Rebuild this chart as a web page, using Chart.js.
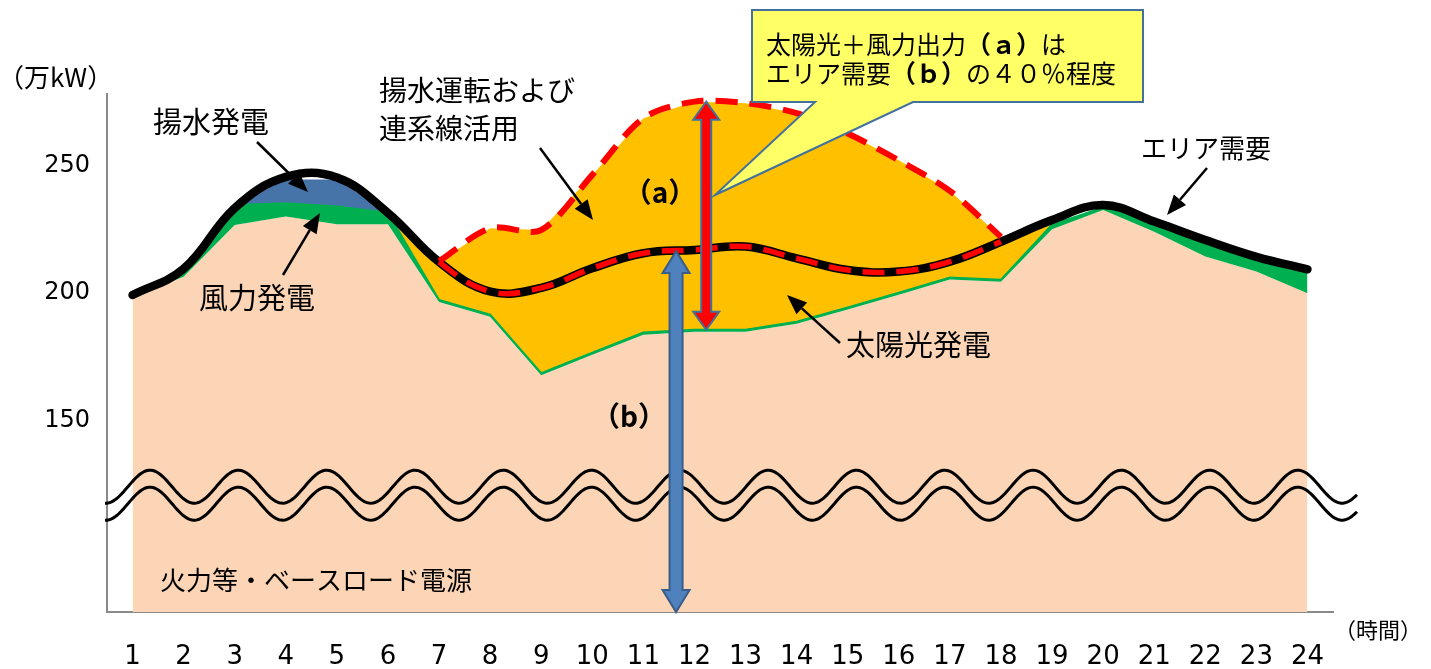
<!DOCTYPE html>
<html>
<head>
<meta charset="utf-8">
<script src="https://cdn.jsdelivr.net/npm/chart.js@4.4.0/dist/chart.umd.min.js"></script>
<style>
  html, body { margin: 0; padding: 0; background: #fff; }
  #wrap { width: 1431px; height: 669px; }
</style>
</head>
<body>
<div id="wrap"><canvas id="supplyChart"></canvas></div>
<script>
const hours = ['1','2','3','4','5','6','7','8','9','10','11','12','13','14','15','16','17','18','19','20','21','22','23','24'];
const yTicks = [150, 200, 250];

// top edge of each band (万kW)
const baseTop  = [198.5, 206.4, 226.7, 230.0, 227.0, 227.0, 196.5, 190.7, 167.8, 175.8, 183.7, 184.8, 184.8, 188.0, 193.5, 199.3, 205.3, 204.4, 225.0, 232.5, 224.0, 214.3, 208.4, 199.9];
const windTop  = [199.2, 208.0, 234.5, 235.2, 233.9, 231.5, 197.3, 191.5, 168.6, 176.6, 184.5, 185.6, 185.6, 188.8, 194.3, 200.1, 206.1, 205.2, 226.8, 233.5, 227.0, 219.5, 213.0, 208.0];
const pumpTop  = [199.2, 208.0, 234.5, 244.5, 244.5, 231.5, 197.3, 191.5, 168.6, 176.6, 184.5, 185.6, 185.6, 188.8, 194.3, 200.1, 206.1, 205.2, 226.8, 233.5, 227.0, 219.5, 213.0, 208.0];
const solarTop = [199.2, 208.0, 234.5, 244.5, 244.5, 231.5, 212.5, 225.4, 224.7, 246.3, 268.5, 275.0, 274.4, 270.5, 262.5, 252.0, 240.0, 222.0, 226.8, 233.5, 227.0, 219.5, 213.0, 208.0];
const demand   = [199.2, 209.5, 233.3, 245.5, 245.3, 231.4, 212.2, 200.6, 202.0, 209.7, 215.6, 216.9, 218.2, 213.6, 209.0, 208.4, 212.3, 220.1, 228.6, 234.5, 228.0, 220.8, 214.2, 209.3];

// hours 7..18 where solar exceeds demand (indexes)
const surplusFrom = 6, surplusTo = 17;
const upperLine = solarTop.map((v, i) => (i >= surplusFrom && i <= surplusTo) ? v : null);

const JP = '"Noto Sans CJK JP", sans-serif';
const NUM = '"DejaVu Sans", sans-serif';

function text(ctx, str, x, y, size, align, weight) {
    ctx.font = (weight || 'normal') + ' ' + size + 'px ' + JP;
    ctx.textAlign = align || 'left';
    ctx.textBaseline = 'middle';
    ctx.fillStyle = '#000';
    ctx.fillText(str, x, y);
}

function runs(ctx, parts, x, y, size) {
    ctx.textAlign = 'left';
    ctx.textBaseline = 'middle';
    ctx.fillStyle = '#000';
    parts.forEach(([str, bold]) => {
        ctx.font = (bold ? 'bold ' : 'normal ') + size + 'px ' + JP;
        ctx.fillText(str, x, y);
        x += ctx.measureText(str).width;
    });
}

function pointer(ctx, x1, y1, x2, y2) {
    const ang = Math.atan2(y2 - y1, x2 - x1);
    const len = 20, half = 8;
    const bx = x2 - len * Math.cos(ang), by = y2 - len * Math.sin(ang);
    ctx.strokeStyle = '#000';
    ctx.lineWidth = 2.5;
    ctx.beginPath();
    ctx.moveTo(x1, y1);
    ctx.lineTo(bx, by);
    ctx.stroke();
    ctx.fillStyle = '#000';
    ctx.beginPath();
    ctx.moveTo(x2, y2);
    ctx.lineTo(bx + half * Math.sin(ang), by - half * Math.cos(ang));
    ctx.lineTo(bx - half * Math.sin(ang), by + half * Math.cos(ang));
    ctx.closePath();
    ctx.fill();
}

// vertical block arrow, heads on both ends
function blockArrow(ctx, x, top, bottom, shaft, headW, headL, fill, stroke) {
    const s = shaft / 2, h = headW / 2;
    ctx.beginPath();
    ctx.moveTo(x, top);
    ctx.lineTo(x + h, top + headL);
    ctx.lineTo(x + s, top + headL);
    ctx.lineTo(x + s, bottom - headL);
    ctx.lineTo(x + h, bottom - headL);
    ctx.lineTo(x, bottom);
    ctx.lineTo(x - h, bottom - headL);
    ctx.lineTo(x - s, bottom - headL);
    ctx.lineTo(x - s, top + headL);
    ctx.lineTo(x - h, top + headL);
    ctx.closePath();
    ctx.fillStyle = fill;
    ctx.fill();
    ctx.strokeStyle = stroke;
    ctx.lineWidth = 2;
    ctx.stroke();
}

const annotations = {
    id: 'annotations',
    afterDatasetsDraw(chart) {
        const { ctx, scales: { x, y } } = chart;
        const step = x.getPixelForValue(1) - x.getPixelForValue(0);
        ctx.save();

        // axis break waves
        const cy = y.getPixelForValue(124.1);
        ctx.strokeStyle = '#000';
        ctx.lineWidth = 3;
        [0, 17].forEach(off => {
            ctx.beginPath();
            for (let px = 105; px <= 1357; px += 2) {
                const py = cy + off - 16.5 * Math.cos(2 * Math.PI * (px - 150) / 88.3);
                if (px === 105) ctx.moveTo(px, py); else ctx.lineTo(px, py);
            }
            ctx.stroke();
        });

        // (a) red arrow: solar+wind output at ~12h
        const ax = x.getPixelForValue(11) + 0.23 * step;
        blockArrow(ctx, ax, y.getPixelForValue(solarTop[11]), y.getPixelForValue(windTop[11]),
            10, 26, 18, '#ff0000', '#41719c');

        // (b) blue arrow: area demand at ~11.6h
        const bx = x.getPixelForValue(10) + 0.64 * step;
        const bTop = demand[10] + 0.64 * (demand[11] - demand[10]);
        blockArrow(ctx, bx, y.getPixelForValue(bTop), y.getPixelForValue(y.min),
            13, 27, 22, '#4f81bd', '#385d8a');

        // labels
        text(ctx, '（万kW）', -2, 77, 26);
        text(ctx, '（時間）', 1334, 630, 22);
        text(ctx, '揚水発電', 153, 122, 29);
        text(ctx, '風力発電', 199, 298, 29);
        text(ctx, '揚水運転および', 379, 90, 28);
        text(ctx, '連系線活用', 379, 128, 28);
        text(ctx, '太陽光発電', 846, 345, 29);
        text(ctx, 'エリア需要', 1141, 148, 26);
        text(ctx, '火力等・ベースロード電源', 160, 580, 26);
        text(ctx, '（a）', 660, 192, 28, 'center', 'bold');
        text(ctx, '（b）', 629, 416, 28, 'center', 'bold');

        pointer(ctx, 257, 142, 308, 192);
        pointer(ctx, 283, 275, 320, 213);
        pointer(ctx, 540, 148, 593, 220);
        pointer(ctx, 840, 343, 787, 295);
        pointer(ctx, 1207, 168, 1167, 215);

        // callout
        ctx.beginPath();
        ctx.moveTo(752, 10);
        ctx.lineTo(1143, 10);
        ctx.lineTo(1143, 102);
        ctx.lineTo(913, 102);
        ctx.lineTo(715, 195);
        ctx.lineTo(815, 102);
        ctx.lineTo(752, 102);
        ctx.closePath();
        ctx.fillStyle = '#ffff66';
        ctx.fill();
        ctx.strokeStyle = '#41719c';
        ctx.lineWidth = 2;
        ctx.stroke();
        runs(ctx, [['太陽光＋風力出力', false], ['（ａ）', true], ['は', false]], 766, 44, 25);
        runs(ctx, [['エリア需要', false], ['（ｂ）', true], ['の４０％程度', false]], 766, 73, 25);

        ctx.restore();
    }
};

const flat = { pointRadius: 0, pointHoverRadius: 0 };

new Chart(document.getElementById('supplyChart'), {
    type: 'line',
    data: {
        labels: hours,
        datasets: [
            { ...flat, label: 'ベースロード', data: baseTop, fill: 'start', backgroundColor: '#fbd5b5', borderWidth: 0, tension: 0, order: 10 },
            { ...flat, label: '風力', data: windTop, fill: 0, backgroundColor: '#00b050', borderColor: '#00b050', borderWidth: 2, tension: 0, order: 6 },
            { ...flat, label: '揚水', data: pumpTop, fill: 1, backgroundColor: '#4674a8', borderWidth: 0, tension: 0, order: 8 },
            { ...flat, label: '太陽光', data: solarTop, fill: 2, backgroundColor: '#ffc000', borderWidth: 0, tension: 0, order: 7 },
            { ...flat, label: 'エリア需要', data: demand, fill: false, borderColor: '#000', borderWidth: 8.5, borderCapStyle: 'round', tension: 0.4, order: 3 },
            { ...flat, label: '揚水運転および連系線活用', data: upperLine, fill: false, borderColor: '#ff0000', borderWidth: 6, borderDash: [22, 12], tension: 0.3, order: 2 },
            {
                ...flat, label: '需要(余剰時間帯)', data: demand, fill: false, borderWidth: 5.5, borderDash: [22, 12], tension: 0.4, order: 1,
                borderColor: '#ff0000',
                segment: {
                    borderColor: c => (c.p0DataIndex >= surplusFrom && c.p1DataIndex <= surplusTo) ? '#ff0000' : 'rgba(0,0,0,0)'
                }
            }
        ]
    },
    options: {
        responsive: true,
        maintainAspectRatio: false,
        animation: false,
        layout: { padding: { top: 94, right: 98, left: 0, bottom: 0 } },
        plugins: { legend: { display: false }, tooltip: { enabled: false } },
        scales: {
            x: {
                type: 'category',
                offset: true,
                grid: { display: false, drawTicks: false },
                border: { display: true, color: '#898989', width: 2 },
                ticks: { color: '#000', font: { family: NUM, size: 26 }, padding: 30, maxRotation: 0, autoSkip: false },
                afterFit: s => { s.height = 57; }
            },
            y: {
                min: 75,
                max: 278,
                grid: { display: false, drawTicks: false },
                border: { display: true, color: '#898989', width: 2 },
                ticks: { color: '#000', font: { family: NUM, size: 24 }, padding: 17 },
                afterBuildTicks: s => { s.ticks = yTicks.map(v => ({ value: v })); },
                afterFit: s => { s.width = 107; }
            }
        }
    },
    plugins: [annotations]
});
</script>
</body>
</html>
